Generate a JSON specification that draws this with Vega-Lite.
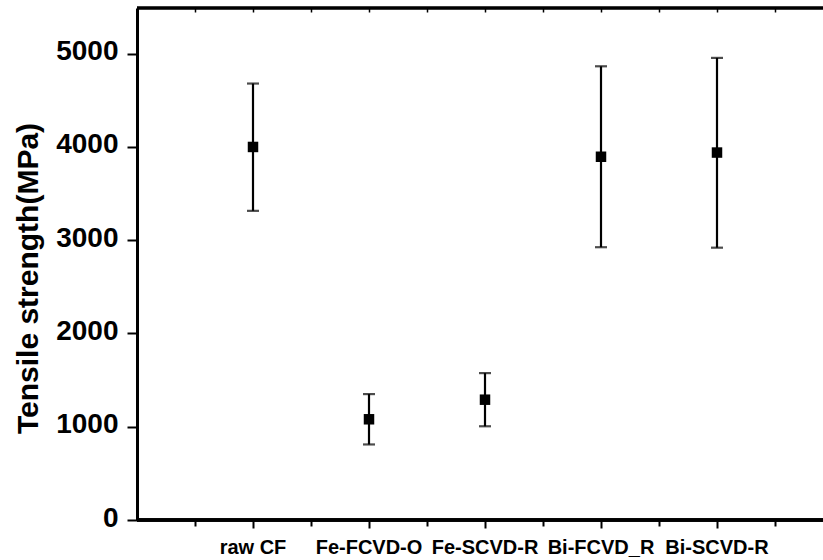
{
  "$schema": "https://vega.github.io/schema/vega-lite/v6.json",
  "width": 686,
  "height": 512,
  "autosize": {"type": "none"},
  "padding": {"left": 137, "top": 8, "right": 0, "bottom": 40},
  "background": "white",
  "config": {
    "view": {"stroke": null},
    "font": "Liberation Sans",
    "axis": {"domainColor": "black", "tickColor": "black", "labelColor": "black", "titleColor": "black", "grid": false}
  },
  "data": {
    "values": [
      {"sample": "raw CF", "value": 4000, "lo": 3315, "hi": 4680},
      {"sample": "Fe-FCVD-O", "value": 1080, "lo": 810, "hi": 1350},
      {"sample": "Fe-SCVD-R", "value": 1290, "lo": 1005, "hi": 1575},
      {"sample": "Bi-FCVD_R", "value": 3895, "lo": 2925, "hi": 4865},
      {"sample": "Bi-SCVD-R", "value": 3940, "lo": 2920, "hi": 4955}
    ]
  },
  "layer": [
    {
      "mark": {"type": "rule", "strokeWidth": 2.2, "color": "black"},
      "encoding": {
        "x": {"field": "sample", "type": "nominal", "sort": null, "bandPosition": 0.5,
          "scale": {"type": "band", "range": [58, 638], "paddingInner": 0, "paddingOuter": 0},
          "axis": {"orient": "bottom", "title": null, "domain": false, "tickBand": "center", "tickSize": 8, "tickWidth": 2,
            "labelAngle": 0, "labelFontSize": 20, "labelFontWeight": "bold", "labelPadding": 9}},
        "y": {"field": "lo", "type": "quantitative",
          "scale": {"domain": [0, 5490], "nice": false, "zero": true},
          "axis": {"values": [0, 1000, 2000, 3000, 4000, 5000], "format": "d", "tickSize": 10, "tickWidth": 2, "domainWidth": 3,
            "labelFontSize": 28, "labelFontWeight": "bold", "labelPadding": 9, "labelOffset": -2,
            "title": "Tensile strength(MPa)", "titleFontSize": 30, "titleFontWeight": "bold",
            "titleX": -109, "titleY": 270, "titleAngle": -90, "titleAlign": "center", "titleBaseline": "middle"}},
        "y2": {"field": "hi"}
      }
    },
    {
      "mark": {"type": "tick", "size": 12, "thickness": 2.2, "color": "black"},
      "encoding": {
        "x": {"field": "sample", "type": "nominal", "sort": null, "axis": null},
        "y": {"field": "hi", "type": "quantitative", "axis": null}
      }
    },
    {
      "mark": {"type": "tick", "size": 12, "thickness": 2.2, "color": "black"},
      "encoding": {
        "x": {"field": "sample", "type": "nominal", "sort": null, "axis": null},
        "y": {"field": "lo", "type": "quantitative", "axis": null}
      }
    },
    {
      "mark": {"type": "square", "size": 110, "filled": true, "color": "black", "opacity": 1},
      "encoding": {
        "x": {"field": "sample", "type": "nominal", "sort": null, "axis": null},
        "y": {"field": "value", "type": "quantitative", "axis": null}
      }
    },
    {
      "mark": {"type": "point", "opacity": 0},
      "encoding": {
        "x": {"field": "sample", "type": "nominal", "sort": null,
          "axis": {"orient": "bottom", "title": null, "domain": false, "labels": false, "tickBand": "extent", "tickSize": 6, "tickWidth": 2}},
        "y": {"field": "value", "type": "quantitative",
          "axis": {"values": [500, 1500, 2500, 3500, 4500], "title": null, "domain": false, "labels": false, "tickSize": 6, "tickWidth": 2}}
      }
    },
    {
      "mark": {"type": "point", "opacity": 0},
      "encoding": {
        "x": {"field": "sample", "type": "nominal", "sort": null,
          "axis": {"orient": "top", "title": null, "domain": false, "labels": false, "tickBand": "center", "tickSize": -4, "tickWidth": 1.5}},
        "y": {"field": "value", "type": "quantitative", "axis": null}
      }
    },
    {
      "mark": {"type": "point", "opacity": 0},
      "encoding": {
        "x": {"field": "sample", "type": "nominal", "sort": null,
          "axis": {"orient": "top", "title": null, "domain": false, "labels": false, "tickBand": "extent", "tickSize": -4, "tickWidth": 1.5}},
        "y": {"field": "value", "type": "quantitative", "axis": null}
      }
    },
    {
      "mark": {"type": "rule", "strokeWidth": 3, "color": "black"},
      "encoding": {"y": {"datum": 0, "type": "quantitative", "axis": null}}
    },
    {
      "mark": {"type": "rule", "strokeWidth": 2.5, "color": "black"},
      "encoding": {"y": {"datum": 5490, "type": "quantitative", "axis": null}}
    }
  ],
  "resolve": {"axis": {"x": "independent", "y": "independent"}}
}
